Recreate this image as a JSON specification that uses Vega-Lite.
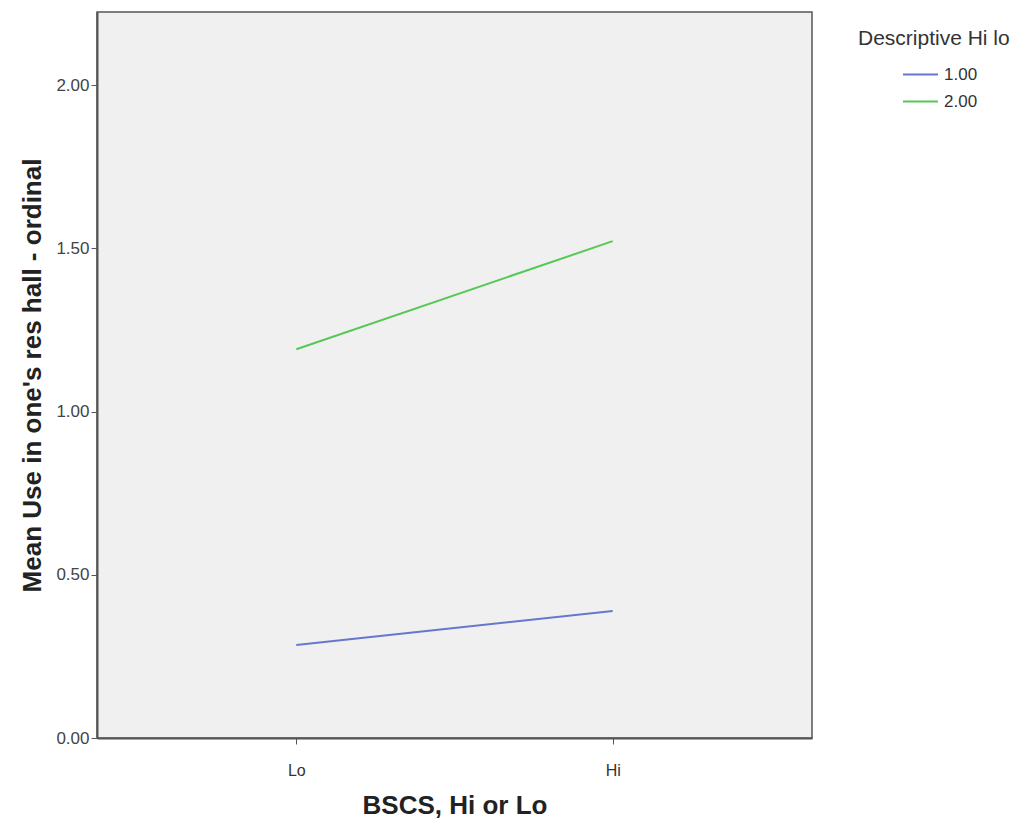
{
  "$schema": "https://vega.github.io/schema/vega-lite/v6.json",
  "autosize": {"type": "none"},
  "width": 715,
  "height": 726,
  "padding": {"left": 97, "top": 12, "right": 217, "bottom": 84},
  "background": "white",
  "config": {
    "font": "Liberation Sans",
    "view": {"fill": "#f0f0f0", "stroke": "#555555", "strokeWidth": 1.5}
  },
  "data": {
    "values": [
      {"bscs": "Lo", "group": "1.00", "mean": 0.285},
      {"bscs": "Hi", "group": "1.00", "mean": 0.389},
      {"bscs": "Lo", "group": "2.00", "mean": 1.191},
      {"bscs": "Hi", "group": "2.00", "mean": 1.522}
    ]
  },
  "mark": {"type": "line", "strokeWidth": 2},
  "encoding": {
    "x": {
      "field": "bscs",
      "type": "nominal",
      "sort": ["Lo", "Hi"],
      "scale": {"type": "point", "padding": 0.63},
      "axis": {
        "title": "BSCS, Hi or Lo",
        "titleFontSize": 26,
        "titleFontWeight": "bold",
        "titleColor": "#222222",
        "titlePadding": 14,
        "labelAngle": 0,
        "labelFontSize": 16,
        "labelColor": "#333333",
        "labelPadding": 18,
        "domainColor": "#555555",
        "domainWidth": 2,
        "tickColor": "#555555",
        "tickSize": 6,
        "grid": false
      }
    },
    "y": {
      "field": "mean",
      "type": "quantitative",
      "scale": {"domain": [0, 2.224], "nice": false},
      "axis": {
        "title": "Mean Use in one's res hall - ordinal",
        "values": [0, 0.5, 1, 1.5, 2],
        "format": ".2f",
        "titleFontSize": 26,
        "titleFontWeight": "bold",
        "titleColor": "#222222",
        "titlePadding": 10,
        "labelFontSize": 17,
        "labelColor": "#444444",
        "labelPadding": 2,
        "domainColor": "#555555",
        "domainWidth": 2,
        "tickColor": "#555555",
        "tickSize": 6,
        "grid": false
      }
    },
    "color": {
      "field": "group",
      "type": "nominal",
      "scale": {"domain": ["1.00", "2.00"], "range": ["#6677cc", "#55c855"]},
      "legend": {
        "title": "Descriptive Hi lo",
        "orient": "none",
        "legendX": 761,
        "legendY": 16,
        "titleFontSize": 21,
        "titleFontWeight": "normal",
        "titleColor": "#333333",
        "titlePadding": 7,
        "labelFontSize": 17,
        "labelColor": "#333333",
        "labelOffset": 5,
        "symbolType": "stroke",
        "symbolSize": 1225,
        "symbolStrokeWidth": 2,
        "symbolOffset": 44,
        "rowPadding": -2,
        "offset": 0
      }
    }
  }
}
